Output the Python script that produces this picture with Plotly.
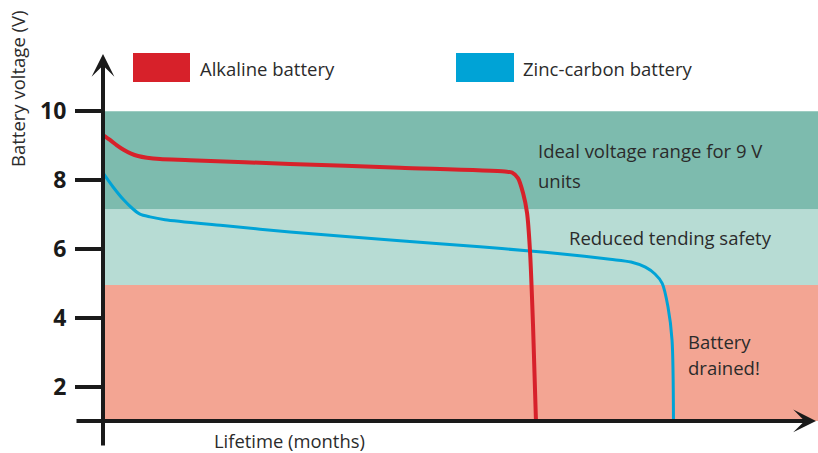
import plotly.graph_objects as go

W, H = 818, 453

# Discharge curves: lifetime in months, terminal voltage in volts
alk_months = [0, 0.29, 0.58, 0.875, 1.17, 1.46, 1.83, 2.375, 3.625, 7.79, 12.375,
              16.75, 17.04, 17.29, 17.5, 17.67, 17.79, 17.92, 18.04]
alk_volts = [9.31, 9.17, 9.01, 8.875, 8.77, 8.70, 8.65, 8.61, 8.58, 8.47, 8.36,
             8.25, 8.22, 8.06, 7.63, 7.04, 5.96, 3.73, 1.0]

zinc_months = [0, 0.42, 0.83, 1.25, 1.54, 1.96, 2.58, 5.0, 7.79, 12.375, 15.71,
               17.79, 19.04, 21.125, 22.0, 22.6, 23.0, 23.3, 23.54, 23.71, 23.77]
zinc_volts = [8.21, 7.80, 7.45, 7.16, 7.01, 6.93, 6.85, 6.68, 6.49, 6.24, 6.06,
              5.94, 5.86, 5.70, 5.62, 5.47, 5.27, 5.0, 4.32, 3.35, 1.0]

# Voltage zones (lower edge, upper edge)
band_edges = [1.0, 4.95, 7.15, 10.0]
band_colors = ["#f3a593", "#b7dcd4", "#7dbbae"]

y_ticks = [2, 4, 6, 8, 10]
series_names = ["Alkaline battery", "Zinc-carbon battery"]
series_colors = ["#d7212a", "#00a3d6"]

TEXT = "#2b2b2b"
AXIS = "#1a1a1a"
FONT = "Open Sans, sans-serif"

# Layout geometry (pixels)
origin_px = 103          # position of the voltage axis
px_per_month = 24.0
v10_px = 111.3           # pixel row of the 10 V tick
px_per_volt = 34.4

x_range = [-origin_px / px_per_month, (W - origin_px) / px_per_month]
y_range = [10 - (H - v10_px) / px_per_volt, 10 + v10_px / px_per_volt]


def px_x(px):
    return (px - origin_px) / px_per_month


def px_y(py):
    return 10 - (py - v10_px) / px_per_volt


def paper(px, py):
    return px / W, 1 - py / H


fig = go.Figure()

for xs, ys, name, color, width in [
    (zinc_months, zinc_volts, series_names[1], series_colors[1], 3),
    (alk_months, alk_volts, series_names[0], series_colors[0], 4),
]:
    fig.add_trace(go.Scatter(
        x=xs, y=ys, name=name, mode="lines",
        line=dict(color=color, width=width, shape="spline", smoothing=0.8),
        showlegend=False, hoverinfo="skip",
    ))

# Voltage zones
for lo, hi, col in zip(band_edges[:-1], band_edges[1:], band_colors):
    fig.add_shape(type="rect", xref="x", yref="y", x0=0, x1=x_range[1],
                  y0=lo, y1=hi, fillcolor=col, line=dict(width=0), layer="below")

annotations = []

# Axis arrows
annotations.append(dict(x=0, y=px_y(54), ax=0, ay=px_y(447), xref="x", yref="y",
                        axref="x", ayref="y", text="", showarrow=True,
                        arrowhead=3, arrowsize=0.95, arrowwidth=4, arrowcolor=AXIS))
annotations.append(dict(x=px_x(816), y=band_edges[0], ax=px_x(75), ay=band_edges[0],
                        xref="x", yref="y", axref="x", ayref="y", text="", showarrow=True,
                        arrowhead=3, arrowsize=0.95, arrowwidth=4, arrowcolor=AXIS))


def label(text, px, py, size=18.5, anchor="left", angle=0):
    x, y = paper(px, py)
    annotations.append(dict(x=x, y=y, xref="paper", yref="paper", text=text,
                            showarrow=False, xanchor=anchor, yanchor="middle",
                            textangle=angle,
                            font=dict(family=FONT, size=size, color=TEXT)))


label("Ideal voltage range for 9 V", 536, 151)
label("units", 536, 180)
label("Reduced tending safety", 567, 237)
label("Battery", 686, 341)
label("drained!", 686, 367)
label("Lifetime (months)", 212, 440, size=18.4)
label("Battery voltage (V)", 17, 89, size=18.5, anchor="center", angle=-90)

# Legend swatches and labels
for (x0, x1), name, color, tx in zip([(133, 190), (456, 514)], series_names,
                                     series_colors, [198, 521]):
    fig.add_shape(type="rect", xref="paper", yref="paper",
                  x0=x0 / W, x1=x1 / W, y0=1 - 82 / H, y1=1 - 53 / H,
                  fillcolor=color, line=dict(width=0))
    label(name, tx, 68)

fig.update_layout(
    width=W, height=H,
    margin=dict(l=0, r=0, t=0, b=0),
    paper_bgcolor="white", plot_bgcolor="white",
    showlegend=False,
    annotations=annotations,
    xaxis=dict(range=x_range, visible=False, domain=[0, 1]),
    yaxis=dict(
        range=y_range, domain=[0, 1], anchor="free", position=origin_px / W,
        showline=False, showgrid=False, zeroline=False,
        ticks="outside", ticklen=28, tickwidth=3.5, tickcolor=AXIS,
        tickvals=y_ticks, ticktext=[str(v) for v in y_ticks],
        tickfont=dict(family=FONT, size=23, color=AXIS, weight=700),
        ticklabelstandoff=4,
    ),
)

fig.write_html("out.html", config={"displayModeBar": False})
